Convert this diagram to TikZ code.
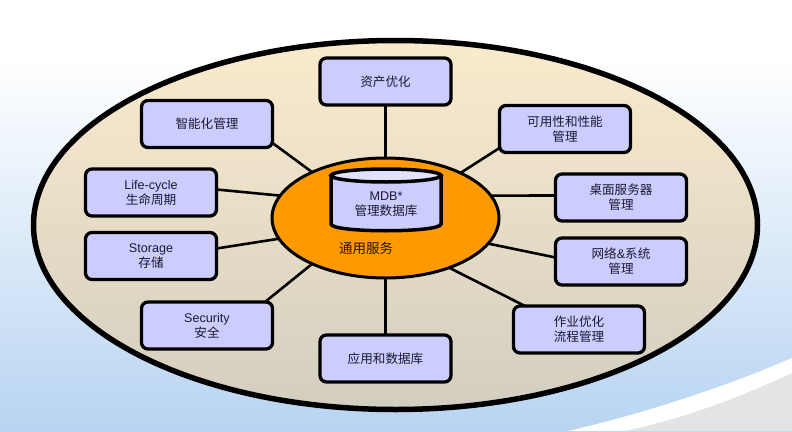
\documentclass[tikz,border=0pt]{standalone}
\usepackage{fontspec}
\setmainfont{Liberation Sans}
\newfontfamily\cjk{Noto Sans CJK SC}
\usetikzlibrary{shapes.geometric,calc}
\definecolor{boxfill}{HTML}{CCCCFF}
\definecolor{cyltop}{HTML}{E2E2FF}
\definecolor{hubfill}{HTML}{FF9900}
\definecolor{creamtop}{HTML}{FBEBCD}
\definecolor{creambot}{HTML}{D2CEC0}
\definecolor{bgblue}{HTML}{B8D4F2}
\definecolor{cornergrey}{HTML}{E4E4E4}
\definecolor{txt}{HTML}{1A1A33}
\tikzset{
  item/.style={draw=black,line width=3.3pt,fill=boxfill,rounded corners=6.5pt,minimum width=131pt,minimum height=47pt,inner sep=0pt,outer sep=0pt,align=center,font=\fontsize{12.6pt}{15pt}\selectfont,text=txt},
  link/.style={draw=black,line width=2.6pt},
  dbline/.style={draw=black,line width=3.5pt},
}
\begin{document}
\begin{tikzpicture}[x=1pt,y=-1pt]
\useasboundingbox (0,0) rectangle (792,431);
% background
\fill[white] (0,0) rectangle (792,60);
\shade[top color=white,bottom color=bgblue] (0,60) rectangle (792,431);
\fill[white] (568,431) .. controls (650,412) and (730,385) .. (792,358) -- (792,431) -- cycle;
\fill[cornergrey] (625,431) .. controls (690,417) and (745,395) .. (792,373) -- (792,431) -- cycle;
% outer ellipse
\node[draw=black,line width=5.5pt,ellipse,top color=creamtop,bottom color=creambot,minimum width=724pt,minimum height=369pt,inner sep=0pt,outer sep=0pt] (outer) at (395.5,225) {};
% boxes
\node[item] (asset) at (385.5,81.5) {{\cjk 资产优化}};
\node[item] (smart) at (207,124) {{\cjk 智能化管理}};
\node[item] (avail) at (565,129) {{\cjk 可用性和性能}\\{\cjk 管理}};
\node[item] (life) at (151,192.5) {Life-cycle\\{\cjk 生命周期}};
\node[item] (desk) at (621,197.5) {{\cjk 桌面服务器}\\{\cjk 管理}};
\node[item] (stor) at (151,256) {Storage\\{\cjk 存储}};
\node[item] (net) at (621,261.5) {{\cjk 网络}\&{\cjk 系统}\\{\cjk 管理}};
\node[item] (sec) at (207,325.5) {Security\\{\cjk 安全}};
\node[item] (app) at (385.5,358.5) {{\cjk 应用和数据库}};
\node[item] (job) at (579,329.5) {{\cjk 作业优化}\\{\cjk 流程管理}};
% hub
\node[draw=black,line width=3pt,ellipse,fill=hubfill,minimum width=227pt,minimum height=120pt,inner sep=0pt,outer sep=0pt] (hub) at (385.5,218) {};
% connectors
\draw[link] (asset.south) -- (asset.south |- hub.north);
\draw[link] ([yshift=-19pt]smart.east) -- (hub.148);
\draw[link] ([yshift=3pt]life.east) -- (hub.168);
\draw[link] ([yshift=-16pt]stor.east |- stor.north) -- (hub.191);
\draw[link] ([xshift=58pt]sec.north) -- (hub.212);
\draw[link] (app.north) -- (app.north |- hub.south);
\draw[link] ([xshift=-54pt]job.north) -- (hub.322);
\draw[link] ([yshift=4pt]net.west) -- (hub.346);
\draw[link] ([yshift=2pt]desk.west) -- (hub.12);
\draw[link] ([yshift=-19pt]avail.west) -- (hub.31);
% database
\path[dbline,fill=boxfill] (331,175.5) -- (331,224) .. controls (331,233) and (441,233) .. (441,224) -- (441,175.5) -- cycle;
\path[dbline,fill=cyltop] (386,175.5) ellipse[x radius=55pt,y radius=6.5pt];
\node[align=center,font=\fontsize{12.6pt}{15pt}\selectfont,text=txt,inner sep=0pt] (dbtext) at (386,204) {MDB*\\{\cjk 管理数据库}};
\node[font=\fontsize{13.5pt}{16pt}\selectfont,text=black!85!orange,inner sep=0pt] (svc) at (366,248) {{\cjk 通用服务}};
\end{tikzpicture}
\end{document}
